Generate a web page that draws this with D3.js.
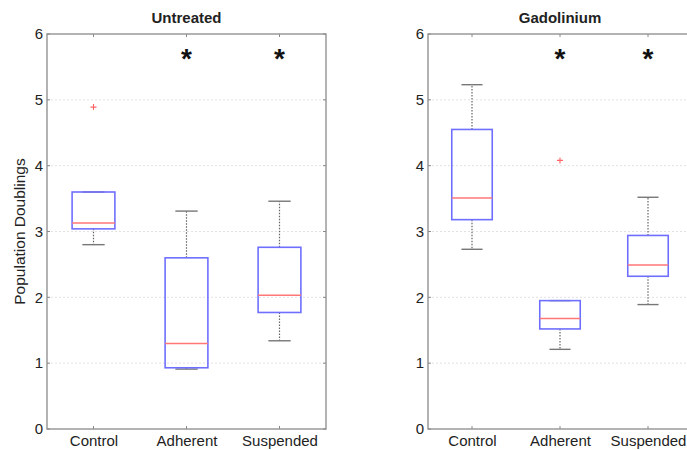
<!DOCTYPE html>
<html>
<head>
<meta charset="utf-8">
<script src="https://cdn.jsdelivr.net/npm/d3@7"></script>
<style>
  html, body { margin: 0; padding: 0; background: #fff; }
  svg { display: block; font-family: "Liberation Sans", Arial, sans-serif; }
</style>
</head>
<body>
<svg id="chart" width="687" height="450"></svg>
<script>
// ---- data ----
const categories = ["Control", "Adherent", "Suspended"];
const panelTitles = ["Untreated", "Gadolinium"];
const yTicks = [0, 1, 2, 3, 4, 5, 6];

const untreatedWhiskerLow  = [2.80, 0.91, 1.34];
const untreatedQ1          = [3.04, 0.93, 1.77];
const untreatedMedian      = [3.13, 1.30, 2.03];
const untreatedQ3          = [3.60, 2.60, 2.76];
const untreatedWhiskerHigh = [3.60, 3.31, 3.46];
const untreatedOutliers    = [[4.89], [], []];
const untreatedSignificant = [false, true, true];

const gadoliniumWhiskerLow  = [2.73, 1.21, 1.89];
const gadoliniumQ1          = [3.18, 1.52, 2.32];
const gadoliniumMedian      = [3.51, 1.68, 2.49];
const gadoliniumQ3          = [4.55, 1.95, 2.94];
const gadoliniumWhiskerHigh = [5.23, 1.95, 3.52];
const gadoliniumOutliers    = [[], [4.08], []];
const gadoliniumSignificant = [false, true, true];

const starLevel = 5.7;

const panelsData = [
  { title: panelTitles[0], lo: untreatedWhiskerLow, q1: untreatedQ1, med: untreatedMedian, q3: untreatedQ3, hi: untreatedWhiskerHigh, out: untreatedOutliers, sig: untreatedSignificant },
  { title: panelTitles[1], lo: gadoliniumWhiskerLow, q1: gadoliniumQ1, med: gadoliniumMedian, q3: gadoliniumQ3, hi: gadoliniumWhiskerHigh, out: gadoliniumOutliers, sig: gadoliniumSignificant }
];

// ---- layout ----
const svg = d3.select("#chart");
const panelX = [[47, 326], [428, 692]];
const yTop = 34, yBottom = 429;
const axisColor = "#8a8a8a";
const textColor = "#222";

const y = d3.scaleLinear().domain([0, 6]).range([yBottom, yTop]);

panelsData.forEach((p, pi) => {
  const [x0, x1] = panelX[pi];
  const x = d3.scalePoint().domain(categories).range([x0, x1]).padding(0.5);
  const step = x.step();
  const boxHalf = step * 0.23;
  const capHalf = step * 0.12;
  const g = svg.append("g");

  // grid
  g.selectAll(".grid").data(yTicks.filter(t => t > 0 && t < 6)).join("line")
    .attr("x1", x0).attr("x2", x1)
    .attr("y1", d => y(d)).attr("y2", d => y(d))
    .attr("stroke", "#e2e2e2").attr("stroke-width", 1)
    .attr("stroke-dasharray", "2,2");

  // frame
  g.append("rect").attr("x", x0).attr("y", yTop)
    .attr("width", x1 - x0).attr("height", yBottom - yTop)
    .attr("fill", "none").attr("stroke", axisColor).attr("stroke-width", 1.3);

  // y axis (left)
  const yAxisL = d3.axisLeft(y).tickValues(yTicks).tickSize(0).tickPadding(4).tickFormat(d3.format("d"));
  const ya = g.append("g").attr("transform", `translate(${x0},0)`).call(yAxisL);
  ya.select(".domain").remove();
  ya.selectAll("text").attr("fill", textColor).style("font-size", "15px");
  // inward ticks left/right
  g.selectAll(".ytl").data(yTicks).join("line")
    .attr("x1", x0).attr("x2", x0 + 3).attr("y1", d => y(d)).attr("y2", d => y(d))
    .attr("stroke", axisColor);
  g.selectAll(".ytr").data(yTicks).join("line")
    .attr("x1", x1 - 3).attr("x2", x1).attr("y1", d => y(d)).attr("y2", d => y(d))
    .attr("stroke", axisColor);

  // x axis bottom
  const xa = g.append("g").attr("transform", `translate(0,${yBottom})`)
    .call(d3.axisBottom(x).tickSize(0).tickPadding(6));
  xa.select(".domain").remove();
  xa.selectAll("text").attr("fill", textColor).style("font-size", "15px");
  g.selectAll(".xtb").data(categories).join("line")
    .attr("x1", d => x(d)).attr("x2", d => x(d)).attr("y1", yBottom).attr("y2", yBottom - 3)
    .attr("stroke", axisColor);
  g.selectAll(".xtt").data(categories).join("line")
    .attr("x1", d => x(d)).attr("x2", d => x(d)).attr("y1", yTop).attr("y2", yTop + 3)
    .attr("stroke", axisColor);

  // title
  g.append("text").attr("x", (x0 + x1) / 2).attr("y", 23)
    .attr("text-anchor", "middle").attr("font-weight", "bold")
    .style("font-size", "15px").attr("fill", textColor).text(p.title);

  const idx = categories.map((c, i) => i);

  // whiskers (dashed)
  g.selectAll(".wu").data(idx).join("line")
    .attr("x1", i => x(categories[i])).attr("x2", i => x(categories[i]))
    .attr("y1", i => y(p.q3[i])).attr("y2", i => y(p.hi[i]))
    .attr("stroke", "#666").attr("stroke-width", 1.2).attr("stroke-dasharray", "1.5,1.5");
  g.selectAll(".wl").data(idx).join("line")
    .attr("x1", i => x(categories[i])).attr("x2", i => x(categories[i]))
    .attr("y1", i => y(p.q1[i])).attr("y2", i => y(p.lo[i]))
    .attr("stroke", "#666").attr("stroke-width", 1.2).attr("stroke-dasharray", "1.5,1.5");
  // caps
  g.selectAll(".cu").data(idx).join("line")
    .attr("x1", i => x(categories[i]) - capHalf).attr("x2", i => x(categories[i]) + capHalf)
    .attr("y1", i => y(p.hi[i])).attr("y2", i => y(p.hi[i]))
    .attr("stroke", "#777").attr("stroke-width", 1.4);
  g.selectAll(".cl").data(idx).join("line")
    .attr("x1", i => x(categories[i]) - capHalf).attr("x2", i => x(categories[i]) + capHalf)
    .attr("y1", i => y(p.lo[i])).attr("y2", i => y(p.lo[i]))
    .attr("stroke", "#777").attr("stroke-width", 1.4);

  // boxes
  g.selectAll(".box").data(idx).join("rect")
    .attr("x", i => x(categories[i]) - boxHalf)
    .attr("width", boxHalf * 2)
    .attr("y", i => y(p.q3[i]))
    .attr("height", i => y(p.q1[i]) - y(p.q3[i]))
    .attr("fill", "none").attr("stroke", "#6f6fff").attr("stroke-width", 1.6);

  // medians
  g.selectAll(".med").data(idx).join("line")
    .attr("x1", i => x(categories[i]) - boxHalf).attr("x2", i => x(categories[i]) + boxHalf)
    .attr("y1", i => y(p.med[i])).attr("y2", i => y(p.med[i]))
    .attr("stroke", "#ff7777").attr("stroke-width", 1.5);

  // outliers
  const outs = [];
  p.out.forEach((arr, i) => arr.forEach(v => outs.push({ c: categories[i], v })));
  g.selectAll(".out").data(outs).join("path")
    .attr("transform", d => `translate(${x(d.c)},${y(d.v)})`)
    .attr("d", "M-3,0H3M0,-3V3")
    .attr("stroke", "#ff6666").attr("stroke-width", 1.1);

  // significance stars
  g.selectAll(".star").data(idx.filter(i => p.sig[i])).join("text")
    .attr("x", i => x(categories[i])).attr("y", y(starLevel) + 14)
    .attr("text-anchor", "middle").attr("font-weight", "bold")
    .style("font-size", "28px").attr("fill", "#111").text("*");
});

// y label
svg.append("text")
  .attr("transform", `translate(25,${(yTop + yBottom) / 2}) rotate(-90)`)
  .attr("text-anchor", "middle").style("font-size", "15.5px").attr("fill", textColor)
  .text("Population Doublings");
</script>
</body>
</html>
